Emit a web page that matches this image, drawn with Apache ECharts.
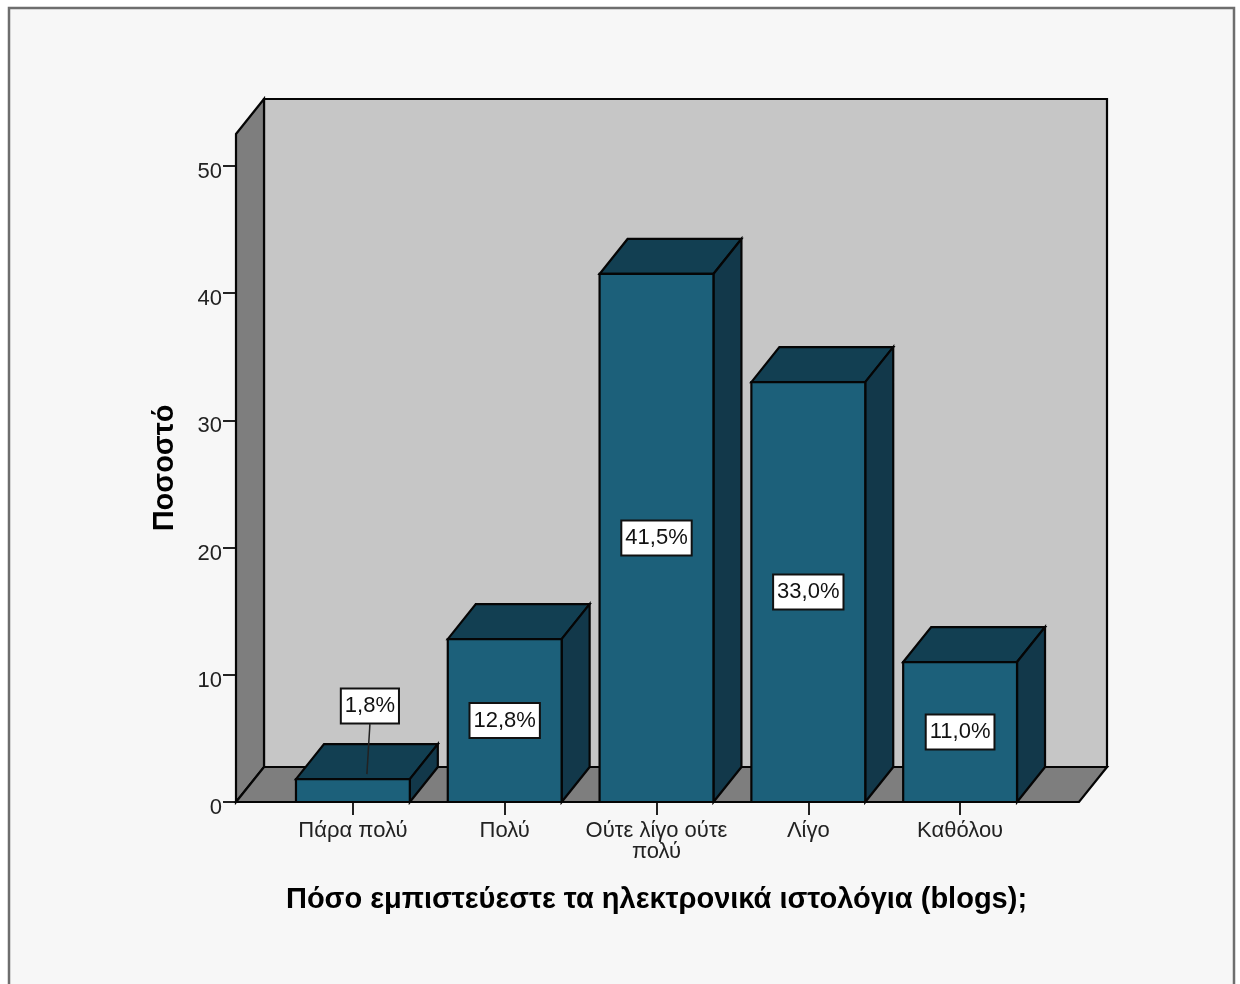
<!DOCTYPE html>
<html><head><meta charset="utf-8">
<style>html,body{margin:0;padding:0;background:#fff}#c{width:1240px;height:984px}</style>
<script src="https://cdn.jsdelivr.net/npm/echarts@6/dist/echarts.min.js"></script>
</head><body><div id="c"></div>
<script>
const categories = ['Πάρα πολύ','Πολύ','Ούτε λίγο ούτε\nπολύ','Λίγο','Καθόλου'];
const percentValues = [1.8,12.8,41.5,33.0,11.0];
const percentLabels = ['1,8%','12,8%','41,5%','33,0%','11,0%'];
const yTicks = [0,10,20,30,40,50];
const xTitle = 'Πόσο εμπιστεύεστε τα ηλεκτρονικά ιστολόγια (blogs);';
const yTitle = 'Ποσοστό';
const FONT = '"Liberation Sans", Arial, sans-serif';
const DX = 28, DY = -35, BAR = 0.75, WALL_L = 41, WALL_R = 43;
const C = {front:'#1c607a', top:'#123f52', side:'#12384a', wall:'#7e7e7e', back:'#c6c6c6', line:'#050505'};
const poly = (points, fill, z) => ({type:'polygon', shape:{points}, style:{fill, stroke:C.line, lineWidth:2.2, lineJoin:'miter'}, z2:z||0});

function renderWalls(params, api) {
  const g = params.coordSys;
  const l = g.x - WALL_L, r = g.x + g.width + WALL_R, b = g.y + g.height, t = g.y;
  return {type:'group', children:[
    poly([[l+DX,t+DY],[r+DX,t+DY],[r+DX,b+DY],[l+DX,b+DY]], C.back),
    poly([[l,t],[l+DX,t+DY],[l+DX,b+DY],[l,b]], C.wall),
    poly([[l,b],[l+DX,b+DY],[r+DX,b+DY],[r,b]], C.wall)
  ]};
}
function renderBar(params, api) {
  const idx = api.value(0), v = api.value(1);
  const base = api.coord([idx,0]), top = api.coord([idx,v]);
  const w = api.size([1,0])[0]*BAR;
  const x0 = base[0]-w/2, x1 = base[0]+w/2, y0 = top[1], y1 = base[1];
  const kids = [
    poly([[x0,y0],[x0+DX,y0+DY],[x1+DX,y0+DY],[x1,y0]], C.top),
    poly([[x1,y0],[x1+DX,y0+DY],[x1+DX,y1+DY],[x1,y1]], C.side),
    poly([[x0,y0],[x1,y0],[x1,y1],[x0,y1]], C.front)
  ];
  let lx = base[0], ly = (y0+y1)/2;
  if (v < 5) {
    lx = base[0]+17; ly = y0-73;
    kids.push({type:'line', shape:{x1:lx,y1:ly+18,x2:base[0]+14,y2:y0-5}, style:{stroke:'#222',lineWidth:1.5}});
  }
  kids.push({type:'text', x:lx, y:ly, style:{
    text:percentLabels[params.dataIndex], font:'22px '+FONT, fill:'#111', align:'center', verticalAlign:'middle',
    backgroundColor:'#fff', borderColor:'#111', borderWidth:2, padding:[6,3,5,3]
  }, z2:5});
  return {type:'group', children:kids};
}
const option = {
  backgroundColor:'#fff', animation:false,
  graphic:[{type:'rect', z:-10, shape:{x:9,y:8,width:1225,height:1100}, style:{fill:'#f7f7f7',stroke:'#6e6e6e',lineWidth:2.5}}],
  grid:{left:277,width:759,top:134,height:668},
  xAxis:{type:'category', data:categories, boundaryGap:true,
    axisLine:{show:false},
    axisTick:{show:true,alignWithLabel:true,length:13,lineStyle:{color:'#222',width:2}},
    axisLabel:{interval:0,margin:18,fontFamily:FONT,fontSize:22,lineHeight:21,color:'#222'},
    name:xTitle,nameLocation:'middle',nameGap:83,
    nameTextStyle:{fontFamily:FONT,fontWeight:'bold',fontSize:29,color:'#000'}},
  yAxis:{type:'value',min:0,max:52.5,interval:10,offset:41,
    splitLine:{show:false},axisLine:{show:false},
    axisTick:{show:true,length:13,lineStyle:{color:'#222',width:2},customValues:yTicks},
    axisLabel:{margin:14,verticalAlign:'top',lineHeight:12,fontFamily:FONT,fontSize:22,color:'#222',customValues:yTicks},
    name:yTitle,nameLocation:'middle',nameGap:57,nameRotate:90,
    nameTextStyle:{fontFamily:FONT,fontWeight:'bold',fontSize:29,color:'#000'}},
  series:[
    {type:'custom',z:1,clip:false,data:[[0,0]],encode:{x:0,y:1},renderItem:renderWalls,silent:true},
    {type:'custom',z:2,clip:false,data:percentValues.map((v,i)=>[i,v]),encode:{x:0,y:1},renderItem:renderBar,silent:true}
  ]
};
echarts.init(document.getElementById('c'),null,{renderer:'canvas'}).setOption(option);
</script></body></html>
